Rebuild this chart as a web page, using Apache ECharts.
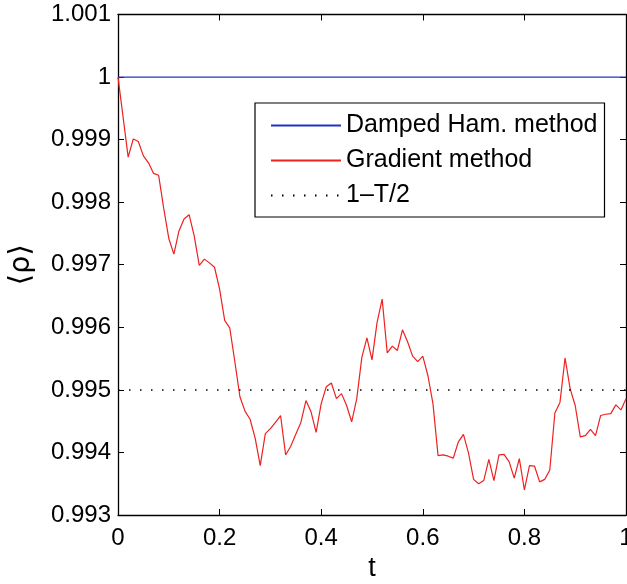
<!DOCTYPE html>
<html>
<head>
<meta charset="utf-8">
<script src="https://cdn.jsdelivr.net/npm/echarts@6/dist/echarts.min.js"></script>
<style>
html,body{margin:0;padding:0;background:#fff;}
#chart{width:627px;height:584px;}
</style>
</head>
<body>
<div id="chart"></div>
<script>
// ---- data ----
const tValues = [0.00,0.01,0.02,0.03,0.04,0.05,0.06,0.07,0.08,0.09,
  0.10,0.11,0.12,0.13,0.14,0.15,0.16,0.17,0.18,0.19,
  0.20,0.21,0.22,0.23,0.24,0.25,0.26,0.27,0.28,0.29,
  0.30,0.31,0.32,0.33,0.34,0.35,0.36,0.37,0.38,0.39,
  0.40,0.41,0.42,0.43,0.44,0.45,0.46,0.47,0.48,0.49,
  0.50,0.51,0.52,0.53,0.54,0.55,0.56,0.57,0.58,0.59,
  0.60,0.61,0.62,0.63,0.64,0.65,0.66,0.67,0.68,0.69,
  0.70,0.71,0.72,0.73,0.74,0.75,0.76,0.77,0.78,0.79,
  0.80,0.81,0.82,0.83,0.84,0.85,0.86,0.87,0.88,0.89,
  0.90,0.91,0.92,0.93,0.94,0.95,0.96,0.97,0.98,0.99,1.00];
const gradientValues = [1.00000,0.99936,0.99872,0.99901,0.99897,0.99874,0.99863,0.99846,0.99843,0.99790,
  0.99742,0.99717,0.99754,0.99773,0.99780,0.99746,0.99699,0.99709,0.99703,0.99696,
  0.99661,0.99611,0.99599,0.99545,0.99489,0.99466,0.99453,0.99423,0.99379,0.99430,
  0.99438,0.99448,0.99459,0.99396,0.99410,0.99429,0.99448,0.99483,0.99465,0.99432,
  0.99478,0.99505,0.99511,0.99486,0.99494,0.99475,0.99449,0.99486,0.99552,0.99583,
  0.99548,0.99608,0.99645,0.99559,0.99570,0.99563,0.99596,0.99577,0.99554,0.99545,
  0.99554,0.99523,0.99478,0.99395,0.99396,0.99394,0.99391,0.99417,0.99429,0.99399,
  0.99357,0.99350,0.99355,0.99389,0.99355,0.99396,0.99397,0.99385,0.99359,0.99390,
  0.99340,0.99379,0.99378,0.99353,0.99357,0.99372,0.99463,0.99480,0.99551,0.99502,
  0.99475,0.99425,0.99427,0.99437,0.99427,0.99459,0.99461,0.99462,0.99476,0.99468,0.99486];
const dampedT = [0, 1];
const dampedValues = [1.0, 1.0];
const refT = [0, 1];
const refValues = [0.995, 0.995];
const seriesNames = ['Damped Ham. method', 'Gradient method', '1\u2013T/2'];
const xTicks = [0, 0.2, 0.4, 0.6, 0.8, 1];
const yTicks = [0.993, 0.994, 0.995, 0.996, 0.997, 0.998, 0.999, 1, 1.001];

// ---- chart ----
const FONT = "'Liberation Sans', Arial, 'DejaVu Sans', sans-serif";
const zip = (a, b) => a.map((v, i) => [v, b[i]]);
const chart = echarts.init(document.getElementById('chart'), null, {renderer: 'canvas'});

const axisCommon = {
  axisLine: {show: true, onZero: false, lineStyle: {color: '#000', width: 1.3}},
  axisTick: {show: true, inside: true, length: 6, lineStyle: {color: '#000', width: 1}},
  splitLine: {show: false},
};

chart.setOption({
  animation: false,
  backgroundColor: '#fff',
  textStyle: {fontFamily: FONT},
  grid: {left: 118, right: 1, top: 14.5, bottom: 69, containLabel: false, outerBoundsMode: 'none'},
  xAxis: [
    Object.assign({
      type: 'value', position: 'bottom', min: xTicks[0], max: xTicks[xTicks.length - 1], interval: 0.2,
      name: 't', nameLocation: 'middle', nameGap: 37,
      nameTextStyle: {color: '#000', fontSize: 27, fontFamily: FONT},
      axisLabel: {color: '#000', fontSize: 24, fontFamily: FONT, margin: 11,
        formatter: v => String(+v.toFixed(1))}
    }, axisCommon),
    Object.assign({
      type: 'value', position: 'top', min: xTicks[0], max: xTicks[xTicks.length - 1], interval: 0.2,
      axisLabel: {show: false}
    }, axisCommon)
  ],
  yAxis: [
    Object.assign({
      type: 'value', position: 'left', min: yTicks[0], max: yTicks[yTicks.length - 1], interval: 0.001,
      name: '\u27E8\u03C1\u27E9', nameLocation: 'middle', nameGap: 82,
      nameTextStyle: {color: '#000', fontSize: 29, fontFamily: "'DejaVu Sans', sans-serif"},
      axisLabel: {color: '#000', fontSize: 24, fontFamily: FONT, margin: 7,
        formatter: v => String(+v.toFixed(3))}
    }, axisCommon),
    Object.assign({
      type: 'value', position: 'right', min: yTicks[0], max: yTicks[yTicks.length - 1], interval: 0.001,
      axisLabel: {show: false}
    }, axisCommon)
  ],
  legend: {
    left: 255, top: 103, orient: 'vertical',
    backgroundColor: '#fff', borderColor: '#000', borderWidth: 1.2,
    padding: [10, 7, 9, 15],
    itemWidth: 70, itemHeight: 24, itemGap: 10,
    itemStyle: {opacity: 0},
    textStyle: {color: '#000', fontSize: 25, fontFamily: FONT, lineHeight: 24},
    data: seriesNames.map(n => ({name: n}))
  },
  series: [
    {name: seriesNames[0], type: 'line', data: zip(dampedT, dampedValues), symbol: 'none',
      lineStyle: {color: '#2233c0', width: 1.2}, itemStyle: {color: '#2233c0'}, z: 2},
    {name: seriesNames[1], type: 'line', data: zip(tValues, gradientValues), symbol: 'none',
      lineStyle: {color: '#ee2020', width: 1.2}, itemStyle: {color: '#ee2020'}, z: 3},
    {name: seriesNames[2], type: 'line', data: zip(refT, refValues), symbol: 'none',
      lineStyle: {color: '#000', width: 1.5, type: [1.5, 9.5]}, itemStyle: {color: '#000'}, z: 4}
  ]
});
</script>
</body>
</html>
